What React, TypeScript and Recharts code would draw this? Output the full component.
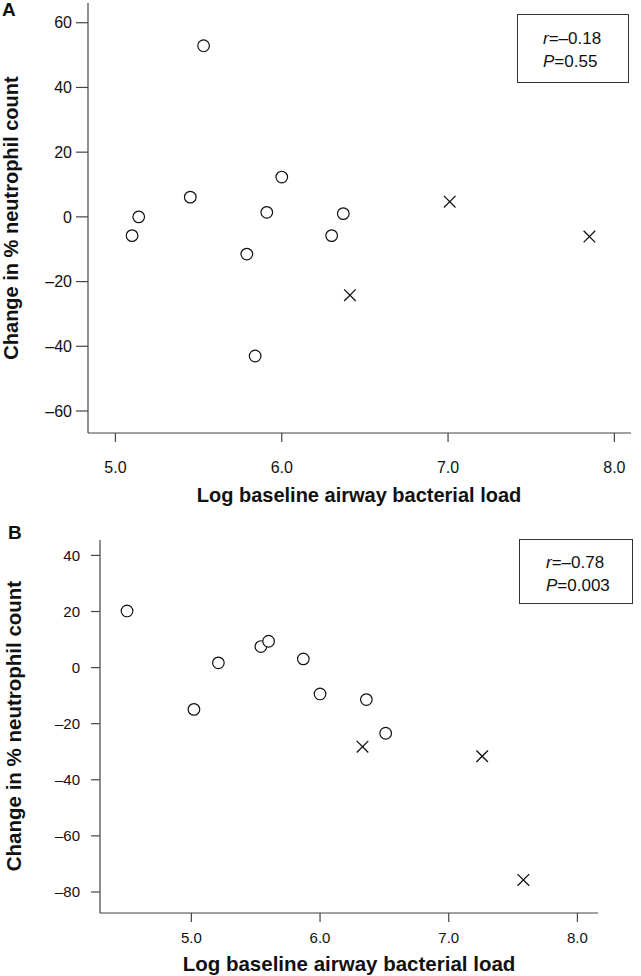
import React from "react"
import { ScatterChart, Scatter, XAxis, YAxis } from "recharts"

const FONT = "'Liberation Sans', Arial, sans-serif"

// tick values
const xTicks = [5, 6, 7, 8]
const yTicksA = [-60, -40, -20, 0, 20, 40, 60]
const yTicksB = [-80, -60, -40, -20, 0, 20, 40]

// panel A: open circles and crosses (log load, change in %)
const circleLoadA = [5.1, 5.14, 5.45, 5.53, 5.79, 5.84, 5.91, 6.0, 6.3, 6.37]
const circleChangeA = [-5.8, 0, 6.1, 52.9, -11.5, -43, 1.4, 12.3, -5.8, 1.0]
const crossLoadA = [6.41, 7.01, 7.85]
const crossChangeA = [-24.2, 4.7, -6.1]

// panel B
const circleLoadB = [4.5, 5.02, 5.21, 5.54, 5.6, 5.87, 6.0, 6.36, 6.51]
const circleChangeB = [20.2, -14.9, 1.7, 7.5, 9.4, 3.1, -9.4, -11.4, -23.4]
const crossLoadB = [6.33, 7.26, 7.58]
const crossChangeB = [-28.2, -31.6, -75.7]

const statsA = { r: "\u20130.18", p: "0.55" }
const statsB = { r: "\u20130.78", p: "0.003" }

const xTitle = "Log baseline airway bacterial load"
const yTitle = "Change in % neutrophil count"

const zip = (xs: number[], ys: number[]) => xs.map((x, i) => ({ x, y: ys[i] }))

const fmtY = (v: number) => (v < 0 ? `\u2013${-v}` : `${v}`)
const fmtX = (v: number) => v.toFixed(1)

const OpenCircle = (p: any) => (
  <circle cx={p.cx} cy={p.cy} r={5.8} fill="#fff" stroke="#111" strokeWidth={1.2} />
)

const XMark = (p: any) => {
  const s = 5.8
  return (
    <path
      d={`M${p.cx - s},${p.cy - s}L${p.cx + s},${p.cy + s}M${p.cx - s},${p.cy + s}L${p.cx + s},${p.cy - s}`}
      stroke="#111"
      strokeWidth={1.3}
      fill="none"
    />
  )
}

const YLabel = ({ bx, cy, size }: any) => (
  <text
    x={bx}
    y={cy}
    transform={`rotate(-90 ${bx} ${cy})`}
    textAnchor="middle"
    fontFamily={FONT}
    fontWeight="bold"
    fontSize={size}
    fill="#111"
  >
    {yTitle}
  </text>
)

const XLabel = ({ cx, by, size }: any) => (
  <text x={cx} y={by} textAnchor="middle" fontFamily={FONT} fontWeight="bold" fontSize={size} fill="#111">
    {xTitle}
  </text>
)

const StatsBox = ({ left, top, width, height, r, p, textLeft }: any) => (
  <div
    style={{
      position: "absolute",
      left,
      top,
      width,
      height,
      boxSizing: "border-box",
      border: "1px solid #333",
      fontFamily: FONT,
      fontSize: 17,
      color: "#111",
      lineHeight: "20px",
    }}
  >
    <div style={{ position: "absolute", left: textLeft, top: height * 0.2 }}>
      <i>r</i>={r}
    </div>
    <div style={{ position: "absolute", left: textLeft, top: height * 0.2 + 23 }}>
      <i>P</i>={p}
    </div>
  </div>
)

const axisStyle = { stroke: "#444", strokeWidth: 1.2 }
const panelLetter = { position: "absolute" as const, fontFamily: FONT, fontWeight: "bold", fontSize: 19, color: "#111" }

export default function App() {
  return (
    <div style={{ position: "absolute", left: 0, top: 0, width: 641, height: 976, background: "#fff" }}>
      <div style={{ position: "absolute", left: 0, top: 0 }}>
        <ScatterChart width={641} height={510} margin={{ top: 3, right: 10, bottom: 0, left: 0 }}>
          <XAxis
            type="number"
            dataKey="x"
            domain={[4.835, 8.1]}
            allowDataOverflow
            ticks={xTicks}
            tickFormatter={fmtX}
            height={77}
            tickSize={9}
            tickMargin={20}
            axisLine={axisStyle}
            tickLine={axisStyle}
            tick={{ fill: "#111", fontSize: 16, fontFamily: FONT }}
            label={<XLabel cx={359} by={502} size={20} />}
          />
          <YAxis
            type="number"
            dataKey="y"
            domain={[-66.8, 66.1]}
            allowDataOverflow
            ticks={yTicksA}
            tickFormatter={fmtY}
            width={88}
            tickSize={12}
            tickMargin={4}
            axisLine={axisStyle}
            tickLine={axisStyle}
            tick={{ fill: "#111", fontSize: 16, fontFamily: FONT }}
            label={<YLabel bx={18} cy={218} size={20} />}
          />
          <Scatter data={zip(circleLoadA, circleChangeA)} shape={OpenCircle} isAnimationActive={false} />
          <Scatter data={zip(crossLoadA, crossChangeA)} shape={XMark} isAnimationActive={false} />
        </ScatterChart>
      </div>
      <div style={{ position: "absolute", left: 0, top: 510 }}>
        <ScatterChart width={641} height={466} margin={{ top: 30, right: 43, bottom: 0, left: 0 }}>
          <XAxis
            type="number"
            dataKey="x"
            domain={[4.29, 8.16]}
            allowDataOverflow
            ticks={xTicks}
            tickFormatter={fmtX}
            height={63}
            tickSize={9}
            tickMargin={10}
            axisLine={axisStyle}
            tickLine={axisStyle}
            tick={{ fill: "#111", fontSize: 15, fontFamily: FONT }}
            label={<XLabel cx={349} by={461} size={20.5} />}
          />
          <YAxis
            type="number"
            dataKey="y"
            domain={[-87.5, 45.5]}
            allowDataOverflow
            ticks={yTicksB}
            tickFormatter={fmtY}
            width={100}
            tickSize={9}
            tickMargin={11}
            axisLine={axisStyle}
            tickLine={axisStyle}
            tick={{ fill: "#111", fontSize: 15, fontFamily: FONT }}
            label={<YLabel bx={21} cy={216} size={20.5} />}
          />
          <Scatter data={zip(circleLoadB, circleChangeB)} shape={OpenCircle} isAnimationActive={false} />
          <Scatter data={zip(crossLoadB, crossChangeB)} shape={XMark} isAnimationActive={false} />
        </ScatterChart>
      </div>
      <div style={{ ...panelLetter, left: 2, top: -1 }}>A</div>
      <div style={{ ...panelLetter, left: 8, top: 522 }}>B</div>
      <StatsBox left={517} top={14} width={112} height={69} r={statsA.r} p={statsA.p} textLeft={25} />
      <StatsBox left={519} top={539} width={114} height={65} r={statsB.r} p={statsB.p} textLeft={26} />
    </div>
  )
}
